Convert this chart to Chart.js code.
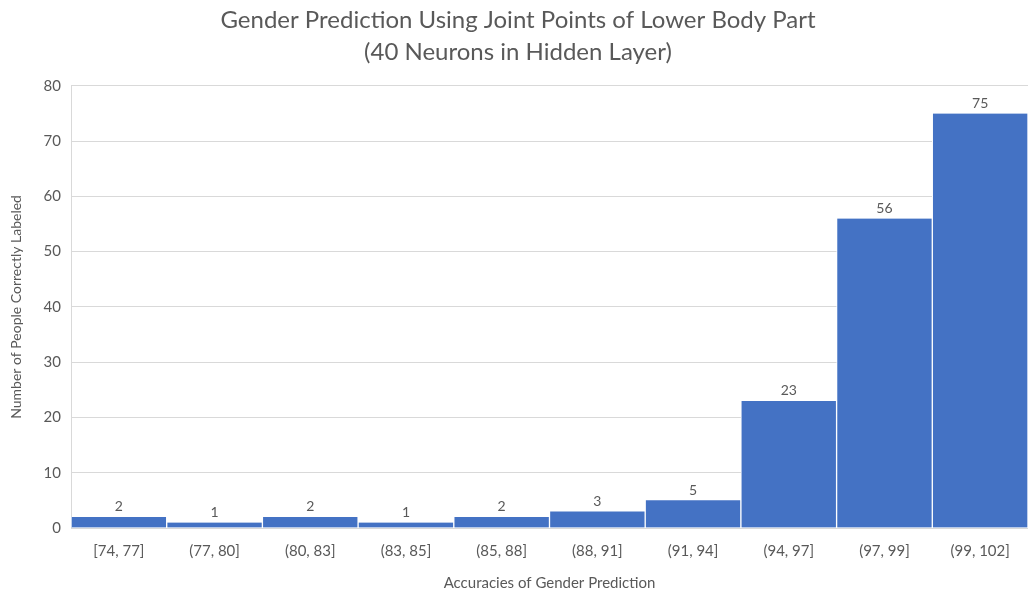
<!DOCTYPE html>
<html>
<head>
<meta charset="utf-8">
<script src="https://cdn.jsdelivr.net/npm/chart.js@4/dist/chart.umd.min.js"></script>
<style>
  html, body { margin: 0; padding: 0; background: #ffffff; }
  #wrap { width: 1028px; height: 595px; }
</style>
</head>
<body>
<div id="wrap"><canvas id="chart" width="1028" height="595"></canvas></div>
<script>
// Accuracy bins and the number of people falling into each
const categories = ['[74, 77]', '(77, 80]', '(80, 83]', '(83, 85]', '(85, 88]', '(88, 91]', '(91, 94]', '(94, 97]', '(97, 99]', '(99, 102]'];
const counts = [2, 1, 2, 1, 2, 3, 5, 23, 56, 75];
const yTicks = [0, 10, 20, 30, 40, 50, 60, 70, 80];

const FONT = "Lato, 'Open Sans', 'Liberation Sans', sans-serif";
const GREY = '#595959';

// Writes each bar's count just above its top edge
const valueLabels = {
  id: 'valueLabels',
  afterDatasetsDraw(chart) {
    const ctx = chart.ctx;
    const meta = chart.getDatasetMeta(0);
    ctx.save();
    ctx.font = '14px ' + FONT;
    ctx.fillStyle = GREY;
    ctx.textAlign = 'center';
    ctx.textBaseline = 'bottom';
    meta.data.forEach((bar, i) => {
      ctx.fillText(String(chart.data.datasets[0].data[i]), bar.x, bar.y - 3);
    });
    ctx.restore();
  }
};

new Chart(document.getElementById('chart'), {
  type: 'bar',
  data: {
    labels: categories,
    datasets: [{
      data: counts,
      backgroundColor: '#4472C4',
      borderColor: '#ffffff',
      borderWidth: { left: 1, right: 1, top: 0, bottom: 0 },
      borderSkipped: false,
      categoryPercentage: 1.0,
      barPercentage: 1.0
    }]
  },
  options: {
    responsive: false,
    animation: false,
    layout: { padding: { left: 8, right: 0, top: 4, bottom: 3 } },
    plugins: {
      legend: { display: false },
      tooltip: { enabled: false },
      title: {
        display: true,
        text: ['Gender Prediction Using Joint Points of Lower Body Part', '(40 Neurons in Hidden Layer)'],
        color: GREY,
        font: { family: FONT, size: 24, weight: 'normal', lineHeight: 1.33 },
        padding: { top: 0, bottom: 18 }
      }
    },
    scales: {
      x: {
        grid: { display: false, drawTicks: false },
        border: { display: true, color: '#d9d9d9', width: 1 },
        ticks: { color: GREY, font: { family: FONT, size: 15 }, padding: 14, maxRotation: 0 },
        title: {
          display: true,
          text: 'Accuracies of Gender Prediction',
          color: GREY,
          font: { family: FONT, size: 15 },
          padding: { top: 0, bottom: 0 }
        }
      },
      y: {
        min: 0,
        max: 80,
        afterBuildTicks(scale) { scale.ticks = yTicks.map(v => ({ value: v })); },
        afterFit(scale) { scale.width = 63; },
        grid: { color: '#d9d9d9', drawTicks: false },
        border: { display: true, color: '#d9d9d9', width: 1 },
        ticks: { color: GREY, font: { family: FONT, size: 15 }, padding: 10 },
        title: {
          display: true,
          text: 'Number of People Correctly Labeled',
          color: GREY,
          font: { family: FONT, size: 14 },
          padding: { top: 0, bottom: 4 }
        }
      }
    }
  },
  plugins: [valueLabels]
});
</script>
</body>
</html>
